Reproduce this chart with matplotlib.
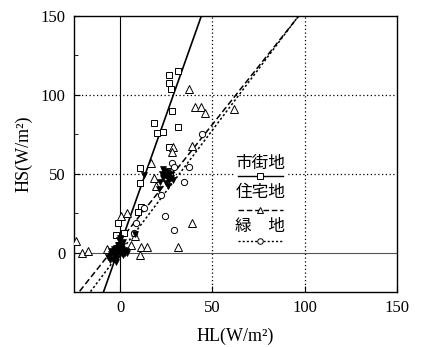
import matplotlib
matplotlib.use("Agg")
import matplotlib.pyplot as plt
import numpy as np

plt.rcParams['font.family'] = ['Liberation Serif', 'Noto Sans CJK JP']

# ---- data (HL, HS in W/m2) ----
urban_hl = [31.2, 26.7, 26.7, 27.6, 28.0, 18.3, 31.5, 20.1, 23.1, 26.3, 10.6, 10.6, 11.5, 9.7, -1.1, -2.0, 2.0, 27.0]
urban_hs = [114.8, 112.7, 107.6, 104.0, 89.7, 81.9, 79.7, 75.5, 76.6, 66.7, 53.8, 43.9, 29.1, 25.5, 19.0, 11.2, 12.2, 52.0]

resid_hl = [-23.8, -20.8, -17.2, -7.0, 0.4, 4.0, 16.8, 37.5, 40.7, 43.7, 46.0, 61.6, 28.5, 28.1,
            38.7, 31.5, 11.5, 14.7, 11.0, 6.1, 39.2, 18.1, 19.5, 7.9]
resid_hs = [7.4, -0.4, 1.0, 2.1, 23.4, 24.9, 57.0, 103.4, 92.0, 92.0, 88.2, 90.7, 66.7, 63.9,
            19.0, 3.8, 3.4, 3.4, -1.5, 4.9, 67.5, 47.0, 42.2, 10.8]

green_hl = [44.3, 28.0, 37.1, 34.8, 24.4, 29.4, 12.7, 8.8, 29.4, 21.9, 7.5, 27.0]
green_hs = [74.9, 57.0, 54.4, 44.9, 23.2, 14.3, 28.1, 19.0, 54.4, 36.5, 12.2, 49.0]

# overlapping (filled) points
dense_hl = [-6.5, -5.5, -4.8, -4.0, -3.5, -3.0, -2.5, -2.0, -1.5, -1.0, -0.5, 0.0, 0.5, 1.0, 1.5, 2.0,
            2.5, 3.0, -3.8, -2.2, -0.8, 0.8, 1.8, -1.2, 0.2, -5.0, 3.5,
            21.5, 22.5, 23.0, 24.0, 24.5, 25.0, 25.5, 26.0, 26.5, 27.0, 27.5, 28.5, 23.5, 25.8,
            12.7, 21.3, 7.9]
dense_hs = [-3.0, -5.0, -1.0, -4.0, 2.0, -2.0, 0.5, 3.0, -3.5, 1.0, 5.0, -1.0, 2.5, 0.0, 7.0, 1.5,
            -0.5, 1.0, 0.0, -6.0, 8.0, 4.0, -1.5, 4.5, 9.0, 1.0, 0.0,
            45.0, 50.0, 47.0, 52.0, 49.0, 44.0, 48.0, 51.0, 46.0, 49.5, 47.5, 46.0, 53.0, 42.0,
            49.0, 40.0, 12.0]

# regression lines  HS = a*HL + b
fit_slope = {'urban': 3.30, 'resid': 1.47, 'green': 1.55}
fit_icpt = {'urban': 4.7, 'resid': 7.7, 'green': 0.1}

legend_labels = ['市街地', '住宅地', '緑\u3000地']

xlim = (-25, 150)
ylim = (-25, 150)

fig = plt.figure(figsize=(4.25, 3.47), dpi=100)
ax = fig.add_axes([0.174, 0.1585, 0.760, 0.7955])
ax.set_xlim(*xlim)
ax.set_ylim(*ylim)

# grid
for v in (50, 100):
    ax.axvline(v, color='black', lw=0.9, ls=(0, (1, 2)), zorder=1)
    ax.axhline(v, color='black', lw=0.9, ls=(0, (1, 2)), zorder=1)
ax.axvline(0, color='black', lw=0.8, zorder=1)
ax.axhline(0, color='#555555', lw=0.8, zorder=1)

xx = np.array(xlim, dtype=float)
ax.plot(xx, fit_slope['urban'] * xx + fit_icpt['urban'], color='black', lw=1.2, ls='-', zorder=3)
ax.plot(xx, fit_slope['resid'] * xx + fit_icpt['resid'], color='black', lw=1.1, ls=(0, (4, 2)), zorder=3)
ax.plot(xx, fit_slope['green'] * xx + fit_icpt['green'], color='black', lw=1.1, ls=(0, (1.5, 1.5)), zorder=3)

ms = 4.5
ax.plot(urban_hl, urban_hs, ls='none', marker='s', ms=ms, mfc='white', mec='black', mew=0.7, zorder=4)
ax.plot(resid_hl, resid_hs, ls='none', marker='^', ms=ms + 0.8, mfc='white', mec='black', mew=0.7, zorder=4)
ax.plot(green_hl, green_hs, ls='none', marker='o', ms=ms, mfc='white', mec='black', mew=0.7, zorder=4)
ax.plot(dense_hl, dense_hs, ls='none', marker='v', ms=5, mfc='black', mec='black', mew=0.5, zorder=5)

# ticks
ax.set_xticks([0, 50, 100, 150])
ax.set_yticks([0, 50, 100, 150])
ax.set_yticks([-25, 25, 75, 125], minor=True)
ax.tick_params(direction='in', length=4, width=0.8, labelsize=12, pad=6)
ax.tick_params(which='minor', direction='in', length=3, width=0.6)
for sp in ax.spines.values():
    sp.set_linewidth(1.0)

ax.set_xlabel('HL(W/m²)', fontsize=13, labelpad=8)
ax.set_ylabel('HS(W/m²)', fontsize=13, labelpad=6)

# legend (manual, label above sample line)
ax.add_patch(plt.Rectangle((0.497, 0.165), 0.165, 0.33, transform=ax.transAxes,
                           facecolor='white', edgecolor='none', zorder=6))
text_y = [0.467, 0.359, 0.236]
line_y = [0.420, 0.297, 0.185]
styles = [('-', 's'), ((0, (4, 2)), '^'), ((0, (1.5, 1.5)), 'o')]
for lab, ty, ly, (lsty, mk) in zip(legend_labels, text_y, line_y, styles):
    ax.text(0.577, ty, lab, transform=ax.transAxes, ha='center', va='center',
            fontsize=12, family=['Noto Sans CJK JP'], zorder=7)
    ax.plot([0.508, 0.647], [ly, ly], transform=ax.transAxes, color='black', lw=1.0,
            ls=lsty, zorder=7, clip_on=False)
    ax.plot([0.577], [ly], transform=ax.transAxes, ls='none', marker=mk, ms=4,
            mfc='white', mec='black', mew=0.7, zorder=8, clip_on=False)

fig.savefig('out.png', dpi=100)
